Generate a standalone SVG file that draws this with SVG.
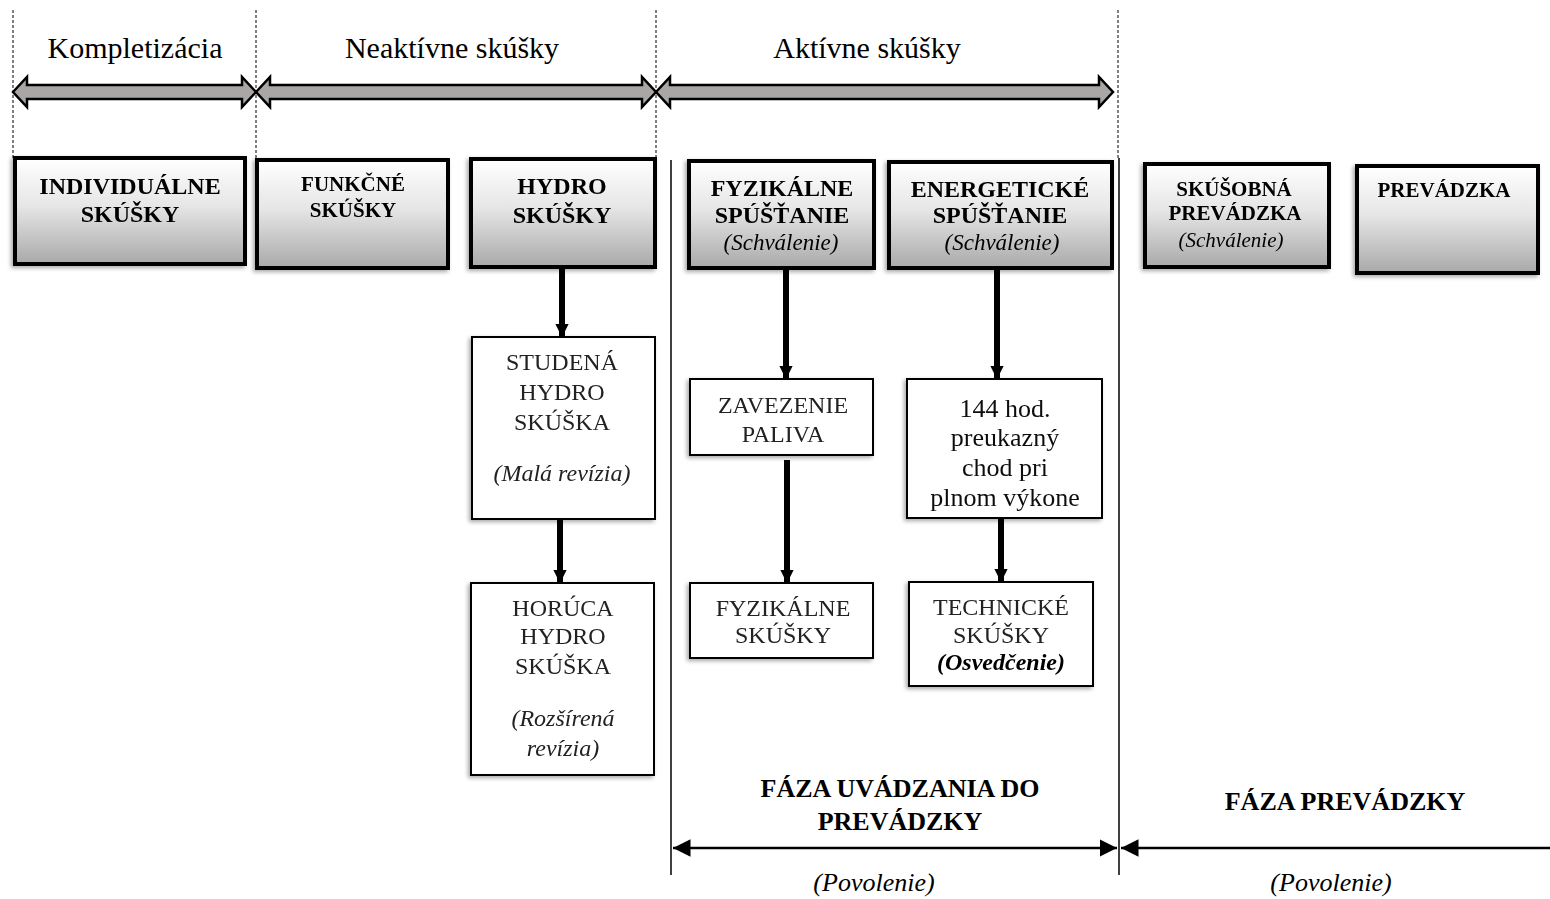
<svg xmlns="http://www.w3.org/2000/svg" width="1550" height="899" viewBox="0 0 1550 899" font-family="'Liberation Serif', 'Times New Roman', serif">
  <defs>
    <linearGradient id="phaseFill" x1="0" y1="0" x2="0" y2="1">
      <stop offset="0" stop-color="#ffffff"/>
      <stop offset="0.45" stop-color="#e6e6e6"/>
      <stop offset="1" stop-color="#a9a9a9"/>
    </linearGradient>
    <filter id="shadow" x="-10%" y="-10%" width="125%" height="125%">
      <feGaussianBlur in="SourceAlpha" stdDeviation="2"/>
      <feOffset dx="-2" dy="2" result="b"/>
      <feComponentTransfer><feFuncA type="linear" slope="0.35"/></feComponentTransfer>
      <feMerge><feMergeNode/><feMergeNode in="SourceGraphic"/></feMerge>
    </filter>
    <marker id="flowHead" viewBox="0 0 10 10" refX="9" refY="5" markerWidth="2.6" markerHeight="2.2" orient="auto" markerUnits="strokeWidth">
      <path d="M0,0 L10,5 L0,10 Z" fill="#000"/>
    </marker>
    <marker id="spanHead" viewBox="0 0 10 10" refX="10" refY="5" markerWidth="7" markerHeight="7" orient="auto-start-reverse" markerUnits="strokeWidth">
      <path d="M0,0 L10,5 L0,10 Z" fill="#000"/>
    </marker>
    <style>
      .phase { fill: url(#phaseFill); stroke: #000; stroke-width: 4; }
      .step { fill: #fff; stroke: #000; stroke-width: 2; }
      .band { fill: #aaa6a6; stroke: #000; stroke-width: 2.5; stroke-linejoin: miter; }
      .guide { stroke: #000; stroke-width: 1; stroke-dasharray: 3 2; fill: none; }
      .rule { stroke: #000; stroke-width: 1.5; fill: none; }
      .flow { stroke: #000; stroke-width: 6; fill: none; marker-end: url(#flowHead); }
      .span { stroke: #000; stroke-width: 2.5; fill: none; }
      text { fill: #000; text-anchor: middle; }
      .hdr { font-size: 30px; }
      .b24 { font-size: 24px; font-weight: bold; }
      .b21 { font-size: 21px; font-weight: bold; }
      .it { font-style: italic; font-size: 23px; }
      .it21 { font-style: italic; font-size: 21px; }
      .it24 { font-style: italic; font-size: 24px; fill: #222; }
      .r24 { font-size: 24px; fill: #222; }
      .r26 { font-size: 26px; fill: #111; }
      .foot { font-size: 26px; font-weight: bold; }
      .pov { font-style: italic; font-size: 26px; }
      .bi { font-size: 24px; font-weight: bold; font-style: italic; }
    </style>
  </defs>

  <!-- stage separators -->
  <g id="separators">
    <line class="guide" x1="13" y1="10" x2="13" y2="158"/>
    <line class="guide" x1="256" y1="10" x2="256" y2="160"/>
    <line class="guide" x1="656" y1="10" x2="656" y2="157"/>
    <line class="guide" x1="1118" y1="10" x2="1118" y2="158"/>
    <line class="rule" x1="671" y1="160" x2="671" y2="875"/>
    <line class="rule" x1="1119" y1="158" x2="1119" y2="875"/>
  </g>

  <!-- stage titles with double block arrows -->
  <g id="stage-kompletizacia">
    <text class="hdr" x="135" y="58">Kompletizácia</text>
    <path class="band" d="M13,92 L27,77 L27,85 L242,85 L242,77 L256,92 L242,107 L242,99 L27,99 L27,107 Z"/>
  </g>
  <g id="stage-neaktivne">
    <text class="hdr" x="452" y="58">Neaktívne skúšky</text>
    <path class="band" d="M256,92 L270,77 L270,85 L642,85 L642,77 L656,92 L642,107 L642,99 L270,99 L270,107 Z"/>
  </g>
  <g id="stage-aktivne">
    <text class="hdr" x="867" y="58">Aktívne skúšky</text>
    <path class="band" d="M656,92 L670,77 L670,85 L1099,85 L1099,77 L1113,92 L1099,107 L1099,99 L670,99 L670,107 Z"/>
  </g>

  <!-- phase boxes -->
  <g id="individualne" filter="url(#shadow)">
    <rect class="phase" x="15" y="158" width="230" height="106"/>
    <text class="b24" x="130" y="194">INDIVIDUÁLNE</text>
    <text class="b24" x="130" y="222">SKÚŠKY</text>
  </g>
  <g id="funkcne" filter="url(#shadow)">
    <rect class="phase" x="257" y="160" width="191" height="108"/>
    <text class="b21" x="353" y="191">FUNKČNÉ</text>
    <text class="b21" x="353" y="217">SKÚŠKY</text>
  </g>
  <g id="hydro" filter="url(#shadow)">
    <rect class="phase" x="471" y="159" width="184" height="108"/>
    <text class="b24" x="562" y="194">HYDRO</text>
    <text class="b24" x="562" y="223">SKÚŠKY</text>
  </g>
  <g id="fyzikalne-spustanie" filter="url(#shadow)">
    <rect class="phase" x="689" y="161" width="185" height="107"/>
    <text class="b24" x="782" y="196">FYZIKÁLNE</text>
    <text class="b24" x="782" y="223">SPÚŠŤANIE</text>
    <text class="it" x="781" y="250">(Schválenie)</text>
  </g>
  <g id="energeticke-spustanie" filter="url(#shadow)">
    <rect class="phase" x="889" y="162" width="223" height="106"/>
    <text class="b24" x="1000" y="197">ENERGETICKÉ</text>
    <text class="b24" x="1000" y="223">SPÚŠŤANIE</text>
    <text class="it" x="1002" y="250">(Schválenie)</text>
  </g>
  <g id="skusobna-prevadzka" filter="url(#shadow)">
    <rect class="phase" x="1145" y="164" width="184" height="103"/>
    <text class="b21" x="1234" y="196">SKÚŠOBNÁ</text>
    <text class="b21" x="1235" y="220">PREVÁDZKA</text>
    <text class="it21" x="1231" y="247">(Schválenie)</text>
  </g>
  <g id="prevadzka" filter="url(#shadow)">
    <rect class="phase" x="1357" y="166" width="181" height="107"/>
    <text class="b21" x="1444" y="197">PREVÁDZKA</text>
  </g>

  <!-- detail steps -->
  <g id="studena" filter="url(#shadow)">
    <rect class="step" x="472" y="337" width="183" height="182"/>
    <text class="r24" x="562" y="370">STUDENÁ</text>
    <text class="r24" x="562" y="400">HYDRO</text>
    <text class="r24" x="562" y="430">SKÚŠKA</text>
    <text class="it24" x="562" y="481">(Malá revízia)</text>
  </g>
  <g id="horuca" filter="url(#shadow)">
    <rect class="step" x="471" y="583" width="183" height="192"/>
    <text class="r24" x="563" y="616">HORÚCA</text>
    <text class="r24" x="563" y="644">HYDRO</text>
    <text class="r24" x="563" y="674">SKÚŠKA</text>
    <text class="it24" x="563" y="726">(Rozšírená</text>
    <text class="it24" x="563" y="756">revízia)</text>
  </g>
  <g id="zavezenie" filter="url(#shadow)">
    <rect class="step" x="690" y="379" width="183" height="76"/>
    <text class="r24" x="783" y="413">ZAVEZENIE</text>
    <text class="r24" x="783" y="442">PALIVA</text>
  </g>
  <g id="preukazny-chod" filter="url(#shadow)">
    <rect class="step" x="907" y="379" width="195" height="139"/>
    <text class="r26" x="1005" y="417">144 hod.</text>
    <text class="r26" x="1005" y="446">preukazný</text>
    <text class="r26" x="1005" y="476">chod pri</text>
    <text class="r26" x="1005" y="506">plnom výkone</text>
  </g>
  <g id="fyzikalne-skusky" filter="url(#shadow)">
    <rect class="step" x="690" y="583" width="183" height="75"/>
    <text class="r24" x="783" y="616">FYZIKÁLNE</text>
    <text class="r24" x="783" y="643">SKÚŠKY</text>
  </g>
  <g id="technicke-skusky" filter="url(#shadow)">
    <rect class="step" x="909" y="582" width="184" height="104"/>
    <text class="r24" x="1001" y="615">TECHNICKÉ</text>
    <text class="r24" x="1001" y="643">SKÚŠKY</text>
    <text class="bi" x="1001" y="670">(Osvedčenie)</text>
  </g>

  <!-- connectors -->
  <g id="connectors">
    <line class="flow" x1="562" y1="269" x2="562" y2="336"/>
    <line class="flow" x1="560" y1="520" x2="560" y2="582"/>
    <line class="flow" x1="786" y1="270" x2="786" y2="378"/>
    <line class="flow" x1="787" y1="460" x2="787" y2="582"/>
    <line class="flow" x1="997" y1="270" x2="997" y2="378"/>
    <line class="flow" x1="1001" y1="519" x2="1001" y2="581"/>
  </g>

  <!-- bottom phases -->
  <g id="faza-uvadzania">
    <text class="foot" x="900" y="797">FÁZA UVÁDZANIA DO</text>
    <text class="foot" x="900" y="830">PREVÁDZKY</text>
    <line class="span" x1="673" y1="848" x2="1117" y2="848" marker-start="url(#spanHead)" marker-end="url(#spanHead)"/>
    <text class="pov" x="874" y="891">(Povolenie)</text>
  </g>
  <g id="faza-prevadzky">
    <text class="foot" x="1345" y="810">FÁZA PREVÁDZKY</text>
    <line class="span" x1="1121" y1="848" x2="1550" y2="848" marker-start="url(#spanHead)"/>
    <text class="pov" x="1331" y="891">(Povolenie)</text>
  </g>
</svg>
